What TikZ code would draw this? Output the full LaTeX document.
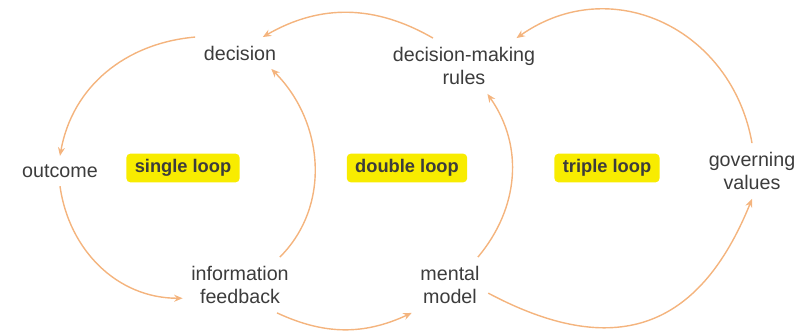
\documentclass[tikz,border=0pt]{standalone}
\usepackage{fontspec}
\setmainfont{Liberation Sans}
\usetikzlibrary{arrows.meta}
\definecolor{loopline}{HTML}{F4B47E}
\definecolor{looptext}{HTML}{3C3C3C}
\definecolor{loopyellow}{HTML}{F8EC00}

\begin{document}
\begin{tikzpicture}[x=0.025cm,y=0.025cm,>=Stealth,
  lbl/.style={text=looptext,inner sep=6pt,align=center,font=\fontsize{14}{17}\selectfont},
  tag/.style={fill=loopyellow,rounded corners=3pt,text=looptext,inner xsep=6pt,minimum height=20.5pt,font=\fontsize{13}{15}\selectfont\bfseries},
  flow/.style={draw=loopline,line width=1pt,-{Stealth[length=6pt,width=5pt]}}]
  \useasboundingbox (0,0) rectangle (800,331);
  \node[lbl] (decision) at (240,278) {decision};
  \node[lbl] (rules) at (464,265) {decision-making\\rules};
  \node[lbl] (outcome) at (60,160) {outcome};
  \node[lbl] (info) at (240,46) {information\\feedback};
  \node[lbl] (mental) at (450,46) {mental\\model};
  \node[lbl] (values) at (752,160) {governing\\values};
  \node[tag] (single) at (183,163) {single loop};
  \node[tag] (double) at (407,163) {double loop};
  \node[tag] (triple) at (607,163) {triple loop};
  % single loop
  \draw[flow] (decision.north west) to[out=185,in=80] (outcome.north);
  \draw[flow] (outcome.south) to[out=-82,in=180] (info.193);
  \draw[flow] (info.35) to[out=45,in=-45] (decision.-27);
  % double loop
  \draw[flow] (info.-37) to[out=-25,in=-155] (mental.south west);
  \draw[flow] (mental.45) to[out=50,in=-55] (rules.-50);
  \draw[flow] (rules.138) to[out=150,in=30] (decision.35);
  % triple loop
  \draw[flow] (values.north) to[out=100,in=35,looseness=1.15] (rules.28);
  \draw[flow] (mental.-12) to[out=-28,in=-112,looseness=1.3] (values.south);
\end{tikzpicture}
\end{document}
